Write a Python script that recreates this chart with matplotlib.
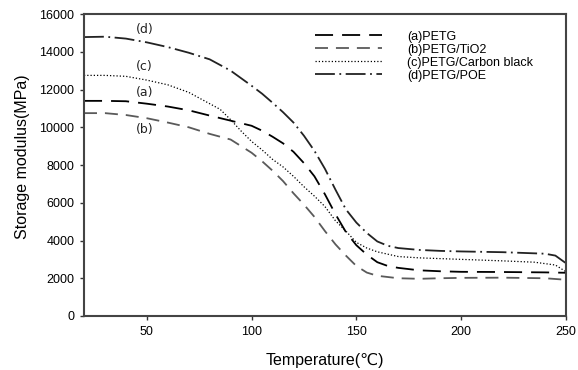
import matplotlib
matplotlib.use("Agg")
import matplotlib.pyplot as plt

plt.rcParams['font.family'] = ['Liberation Sans', 'DejaVu Sans']

temp_a = [20, 30, 40, 50, 60, 70, 80, 90, 100, 105, 110, 115, 120, 125, 130, 135, 140, 145, 150, 155, 160, 165, 170, 180, 190, 200, 220, 240, 250]
mod_a = [11400, 11400, 11380, 11250, 11100, 10900, 10620, 10350, 10080, 9820, 9500, 9150, 8700, 8100, 7400, 6450, 5400, 4450, 3750, 3250, 2850, 2650, 2550, 2420, 2370, 2340, 2330, 2310, 2290]

temp_b = [20, 30, 40, 50, 60, 70, 80, 90, 95, 100, 105, 110, 115, 120, 125, 130, 135, 140, 145, 150, 155, 160, 170, 180, 190, 200, 220, 240, 250]
mod_b = [10750, 10750, 10650, 10480, 10250, 10000, 9650, 9350, 9000, 8650, 8200, 7700, 7150, 6500, 5900, 5250, 4500, 3800, 3200, 2650, 2300, 2130, 2000, 1970, 2000, 2020, 2030, 2000, 1920]

temp_c = [20, 30, 40, 50, 60, 70, 80, 85, 90, 95, 100, 105, 110, 115, 120, 125, 130, 135, 140, 145, 150, 155, 160, 170, 180, 190, 200, 220, 235, 245, 250]
mod_c = [12750, 12750, 12700, 12500, 12250, 11850, 11250, 10950, 10400, 9800, 9250, 8800, 8300, 7900, 7400, 6850, 6350, 5800, 5050, 4500, 3900, 3600, 3400, 3150, 3080, 3040, 3000, 2920, 2850, 2700, 2350]

temp_d = [20, 30, 40, 50, 60, 70, 80, 90, 100, 105, 110, 115, 120, 125, 130, 135, 140, 145, 150, 155, 160, 165, 170, 180, 190, 200, 220, 240, 245, 250]
mod_d = [14780, 14800, 14700, 14500, 14250, 13950, 13600, 13000, 12200, 11780, 11300, 10800, 10250, 9550, 8750, 7800, 6700, 5650, 4950, 4400, 3950, 3720, 3600, 3500, 3450, 3420, 3380, 3300, 3200, 2800]

labels = ['(a)PETG', '(b)PETG/TiO2', '(c)PETG/Carbon black', '(d)PETG/POE']
curve_tags = ['(a)', '(b)', '(c)', '(d)']
tag_pos = [(49, 11850), (49, 9890), (49, 13240), (49, 15200)]

fig = plt.figure(figsize=(5.78, 3.70), dpi=100)
ax = fig.add_axes([0.1453, 0.146, 0.8337, 0.816])

ax.plot(temp_a, mod_a, color='black', lw=1.3, dashes=(10, 5), label=labels[0])
ax.plot(temp_b, mod_b, color='#5a5a5a', lw=1.3, dashes=(7.2, 4.4), label=labels[1])
ax.plot(temp_c, mod_c, color='black', lw=0.9, dashes=(1, 1.6), label=labels[2])
ax.plot(temp_d, mod_d, color='#222222', lw=1.3, dashes=(11, 2.5, 1, 2.5), label=labels[3])

for tag, (x, y) in zip(curve_tags, tag_pos):
    ax.text(x, y, tag, ha='center', va='center', fontsize=9, family=['DejaVu Sans'], color='#222222')

ax.set_xlim(20, 250)
ax.set_ylim(0, 16000)
ax.set_xticks([50, 100, 150, 200, 250])
ax.set_yticks(range(0, 16001, 2000))
ax.tick_params(direction='out', length=3, width=1, labelsize=9, colors='#333333', labelcolor='black', pad=4)
for s in ax.spines.values():
    s.set_linewidth(1.5)
    s.set_color('#444444')

ax.set_xlabel('Temperature(℃)', fontsize=11.5, labelpad=11)
ax.set_ylabel('Storage modulus(MPa)', fontsize=11.5)
ax.yaxis.set_label_coords(-0.112, 0.527)

leg = ax.legend(loc='upper left', bbox_to_anchor=(0.479, 0.945), frameon=False, fontsize=9,
                handlelength=5.4, handletextpad=2.0, labelspacing=0.08, borderaxespad=0, borderpad=0)

fig.savefig('out.png', dpi=100)
